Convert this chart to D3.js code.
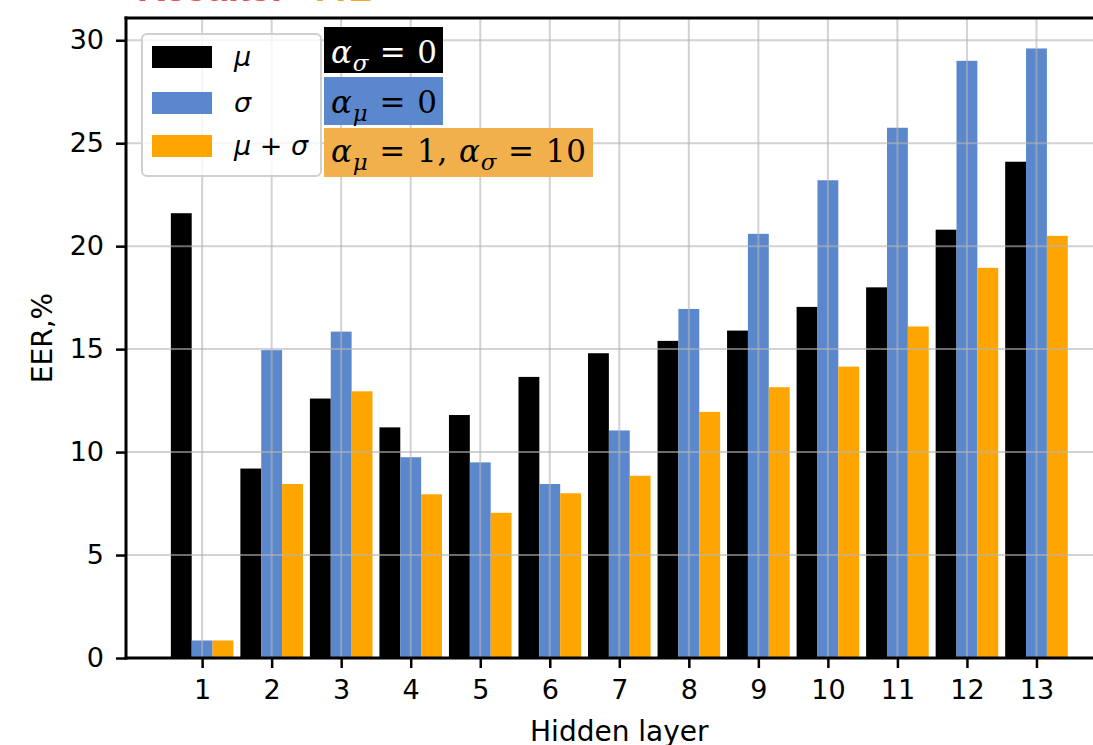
<!DOCTYPE html>
<html>
<head>
<meta charset="utf-8">
<script src="https://cdn.jsdelivr.net/npm/d3@7"></script>
<style>
  html, body { margin: 0; padding: 0; background: #fff; }
  svg { display: block; }
</style>
</head>
<body>
<svg id="chart" width="1093" height="745"></svg>
<script>
// ---- data ----
const layers = [1, 2, 3, 4, 5, 6, 7, 8, 9, 10, 11, 12, 13];
const muValues = [21.6, 9.2, 12.6, 11.2, 11.8, 13.65, 14.8, 15.4, 15.9, 17.05, 18.0, 20.8, 24.1];
const sigmaValues = [0.85, 14.95, 15.85, 9.75, 9.5, 8.45, 11.05, 16.95, 20.6, 23.2, 25.75, 29.0, 29.6];
const muSigmaValues = [0.85, 8.45, 12.95, 7.95, 7.05, 8.0, 8.85, 11.95, 13.15, 14.15, 16.1, 18.95, 20.5];
const yTicks = [0, 5, 10, 15, 20, 25, 30];
const seriesNames = ["μ", "σ", "μ + σ"];
const seriesColors = ["#000000", "#5b88cc", "#ffa500"];

const series = [muValues, sigmaValues, muSigmaValues];
const offsets = [-0.3, 0, 0.3];
const barW = 0.3;

const svg = d3.select("#chart");
const pLeft = 126, pRight = 1112.6, pTop = 18, pBottom = 658;

const x = d3.scaleLinear().domain([-0.095, 14.095]).range([pLeft, pRight]);
const y = d3.scaleLinear().domain([0, 31.08]).range([pBottom, pTop]);

// title remnant (cut off at top, as in the reference)
const title = svg.append("text")
  .attr("y", 0.5)
  .attr("font-family", "Liberation Sans, Arial, sans-serif")
  .attr("font-weight", "bold")
  .attr("font-size", 40);
title.append("tspan").attr("x", 137).attr("fill", "#e2534f").attr("textLength", 146).text("Results:");
title.append("tspan").attr("x", 316).attr("fill", "#f2a531").attr("textLength", 56).text("A2");

// bars
const gBars = svg.append("g");
series.forEach((vals, si) => {
  gBars.selectAll(null)
    .data(vals)
    .join("rect")
    .attr("x", (d, i) => x(layers[i] + offsets[si] - barW / 2))
    .attr("width", (d, i) => x(layers[i] + offsets[si] + barW / 2) - x(layers[i] + offsets[si] - barW / 2))
    .attr("y", d => y(d))
    .attr("height", d => y(0) - y(d))
    .attr("fill", seriesColors[si]);
});

// grid on top of bars
const gGrid = svg.append("g")
  .attr("stroke", "#b4b4b4")
  .attr("stroke-opacity", 0.6)
  .attr("stroke-width", 2);
gGrid.selectAll(null).data(yTicks.filter(t => t > 0)).join("line")
  .attr("x1", pLeft).attr("x2", pRight)
  .attr("y1", d => y(d)).attr("y2", d => y(d));
gGrid.selectAll(null).data(layers).join("line")
  .attr("x1", d => x(d)).attr("x2", d => x(d))
  .attr("y1", pTop).attr("y2", pBottom);

// axes
const yAxis = d3.axisLeft(y).tickValues(yTicks).tickSize(10).tickPadding(12).tickFormat(d3.format("d"));
const gy = svg.append("g").attr("transform", `translate(${pLeft},0)`).call(yAxis);
const xAxis = d3.axisBottom(x).tickValues(layers).tickSize(10).tickPadding(12).tickFormat(d3.format("d"));
const gx = svg.append("g").attr("transform", `translate(0,${pBottom})`).call(xAxis);
[gx, gy].forEach(g => {
  g.select(".domain").remove();
  g.selectAll(".tick line").attr("stroke", "#000").attr("stroke-width", 2.5);
  g.selectAll(".tick text")
    .attr("font-family", "DejaVu Sans, sans-serif")
    .attr("font-size", 27)
    .attr("fill", "#000");
});

// spines
const gSp = svg.append("g").attr("stroke", "#000").attr("stroke-width", 3).attr("fill", "none");
gSp.append("line").attr("x1", pLeft).attr("x2", pLeft).attr("y1", pTop - 1.5).attr("y2", pBottom + 1.5);
gSp.append("line").attr("x1", pLeft - 1.5).attr("x2", pRight).attr("y1", pBottom).attr("y2", pBottom);
gSp.append("line").attr("x1", pLeft - 1.5).attr("x2", pRight).attr("y1", pTop).attr("y2", pTop);
gSp.append("line").attr("x1", pRight).attr("x2", pRight).attr("y1", pTop).attr("y2", pBottom);

// axis labels
svg.append("text")
  .attr("x", (pLeft + pRight) / 2).attr("y", 741)
  .attr("text-anchor", "middle")
  .attr("font-family", "DejaVu Sans, sans-serif")
  .attr("font-size", 28)
  .text("Hidden layer");
svg.append("text")
  .attr("transform", `translate(52,${(pTop + pBottom) / 2}) rotate(-90)`)
  .attr("text-anchor", "middle")
  .attr("font-family", "DejaVu Sans, sans-serif")
  .attr("font-size", 28)
  .text("EER,%");

// legend
const lg = svg.append("g");
lg.append("rect")
  .attr("x", 142).attr("y", 34).attr("width", 179).attr("height", 142)
  .attr("rx", 5).attr("ry", 5)
  .attr("fill", "#fff").attr("fill-opacity", 0.8)
  .attr("stroke", "#d0d0d0").attr("stroke-width", 2);
const rowY = [57, 103, 146];
seriesNames.forEach((name, i) => {
  lg.append("rect")
    .attr("x", 152).attr("y", rowY[i] - 11).attr("width", 60).attr("height", 22)
    .attr("fill", seriesColors[i]);
  lg.append("text")
    .attr("x", 234).attr("y", rowY[i] + 9)
    .attr("font-family", "DejaVu Sans, sans-serif")
    .attr("font-style", "italic")
    .attr("font-size", 27)
    .attr("fill", "#000")
    .text(name);
});

// annotation boxes
const annotations = [
  { box: [324, 27, 119, 46], bg: "#000000", fg: "#ffffff", base: 63, len: 106,
    parts: [["α", "i"], ["σ", "s"], [" = 0", "n"]] },
  { box: [324, 77, 119, 48], bg: "#5b88cc", fg: "#000000", base: 113, len: 106,
    parts: [["α", "i"], ["μ", "s"], [" = 0", "n"]] },
  { box: [324, 128, 269, 49], bg: "#f2b04c", fg: "#000000", base: 162, len: 255,
    parts: [["α", "i"], ["μ", "s"], [" = 1, ", "n"], ["α", "i"], ["σ", "s"], [" = 10", "n"]] }
];
annotations.forEach(a => {
  svg.append("rect")
    .attr("x", a.box[0]).attr("y", a.box[1]).attr("width", a.box[2]).attr("height", a.box[3])
    .attr("fill", a.bg);
  const t = svg.append("text")
    .attr("x", 331).attr("y", a.base)
    .attr("font-family", "DejaVu Serif, serif")
    .attr("font-size", 31)
    .attr("textLength", a.len)
    .attr("lengthAdjust", "spacing")
    .attr("fill", a.fg);
  let shifted = false;
  a.parts.forEach(([s, kind]) => {
    const sp = t.append("tspan").text(s);
    if (kind === "i") { sp.attr("font-style", "italic"); if (shifted) { sp.attr("dy", -8); shifted = false; } }
    if (kind === "s") { sp.attr("font-style", "italic").attr("font-size", 23).attr("dy", 8); shifted = true; }
    if (kind === "n") { if (shifted) { sp.attr("dy", -8); shifted = false; } }
  });
});
</script>
</body>
</html>
